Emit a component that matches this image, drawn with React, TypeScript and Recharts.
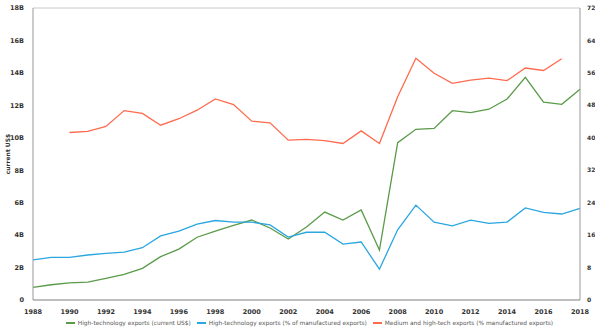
import { CartesianGrid, Line, LineChart, XAxis, YAxis } from 'recharts'

const years = [
  1988, 1989, 1990, 1991, 1992, 1993, 1994, 1995, 1996, 1997, 1998, 1999, 2000, 2001, 2002, 2003,
  2004, 2005, 2006, 2007, 2008, 2009, 2010, 2011, 2012, 2013, 2014, 2015, 2016, 2017, 2018,
]

// billions of current US$
const hiTechUsdB = [
  0.78, 0.94, 1.05, 1.1, 1.34, 1.58, 1.95, 2.67, 3.14, 3.87, 4.25, 4.6, 4.93, 4.44, 3.76, 4.5,
  5.42, 4.93, 5.55, 3.08, 9.7, 10.52, 10.58, 11.67, 11.55, 11.76, 12.39, 13.73, 12.19, 12.06, 12.99,
]

const hiTechPct = [
  9.9, 10.5, 10.5, 11.1, 11.5, 11.8, 12.9, 15.8, 17.0, 18.7, 19.6, 19.2, 19.2, 18.5, 15.5, 16.7,
  16.7, 13.8, 14.3, 7.6, 17.3, 23.4, 19.2, 18.3, 19.7, 18.9, 19.2, 22.7, 21.6, 21.2, 22.6,
]

const medHiTechPct = [
  null, null, 41.3, 41.6, 42.8, 46.7, 46.0, 43.1, 44.7, 46.8, 49.6, 48.2, 44.1, 43.7, 39.4, 39.6,
  39.3, 38.6, 41.7, 38.6, 50.1, 59.6, 55.9, 53.4, 54.2, 54.7, 54.1, 57.2, 56.6, 59.5, null,
]

const xTicks = [1988, 1990, 1992, 1994, 1996, 1998, 2000, 2002, 2004, 2006, 2008, 2010, 2012, 2014, 2016, 2018]
const leftTicks = [0, 2, 4, 6, 8, 10, 12, 14, 16, 18]
const rightTicks = [0, 8, 16, 24, 32, 40, 48, 56, 64, 72]

const series = [
  { key: 'usd', name: 'High-technology exports (current US$)', color: '#5a9a48', axis: 'left' },
  { key: 'pct', name: 'High-technology exports (% of manufactured exports)', color: '#2aa6e0', axis: 'right' },
  { key: 'med', name: 'Medium and high-tech exports (% manufactured exports)', color: '#ff6b4e', axis: 'right' },
]

const data = years.map((year, i) => ({
  year,
  usd: hiTechUsdB[i],
  pct: hiTechPct[i],
  med: medHiTechPct[i],
}))

const font = '"DejaVu Sans", Verdana, sans-serif'
const tickStyle = { fontSize: 6.5, fontWeight: 700, fill: '#333', fontFamily: font }

function LegendRow() {
  return (
    <div
      style={{
        position: 'absolute',
        left: 12,
        top: 319,
        width: 595,
        display: 'flex',
        justifyContent: 'center',
        gap: 6,
        fontSize: 5.85,
        lineHeight: '8px',
        fontFamily: font,
        color: '#555',
        whiteSpace: 'nowrap',
      }}
    >
      {series.map((s) => (
        <span key={s.key} style={{ display: 'flex', alignItems: 'center' }}>
          <span style={{ display: 'inline-block', width: 9, height: 1.3, background: s.color, marginRight: 3 }} />
          {s.name}
        </span>
      ))}
    </div>
  )
}

export default function App() {
  return (
    <div style={{ position: 'absolute', left: 0, top: 0, width: 595, height: 332 }}>
      <LineChart width={595} height={332} data={data} margin={{ top: 8, right: 0, left: 0, bottom: 18 }}>
        <CartesianGrid vertical={false} stroke="#c8c8c8" strokeWidth={1} />
        <XAxis
          dataKey="year"
          type="number"
          domain={[1988, 2018]}
          ticks={xTicks}
          tick={tickStyle}
          tickLine={false}
          axisLine={{ stroke: '#999' }}
          tickMargin={3}
          height={14}
          interval={0}
        />
        <YAxis
          yAxisId="left"
          domain={[0, 18]}
          ticks={leftTicks}
          tick={tickStyle}
          tickLine={false}
          axisLine={{ stroke: '#999' }}
          width={33}
          tickMargin={3}
          interval={0}
          tickFormatter={(v: number) => (v === 0 ? '0' : `${v}B`)}
          label={{
            value: 'current US$',
            angle: -90,
            position: 'insideLeft',
            offset: 8,
            style: { fontSize: 6, fontWeight: 700, fill: '#333', fontFamily: font, textAnchor: 'middle' },
          }}
        />
        <YAxis
          yAxisId="right"
          orientation="right"
          domain={[0, 72]}
          ticks={rightTicks}
          tick={{ ...tickStyle, fontSize: 6 }}
          tickLine={false}
          axisLine={{ stroke: '#999' }}
          width={15}
          tickMargin={1}
          interval={0}
        />
        {series.map((s) => (
          <Line
            key={s.key}
            yAxisId={s.axis}
            dataKey={s.key}
            name={s.name}
            stroke={s.color}
            strokeWidth={1.3}
            dot={false}
            isAnimationActive={false}
          />
        ))}
      </LineChart>
      <LegendRow />
    </div>
  )
}
